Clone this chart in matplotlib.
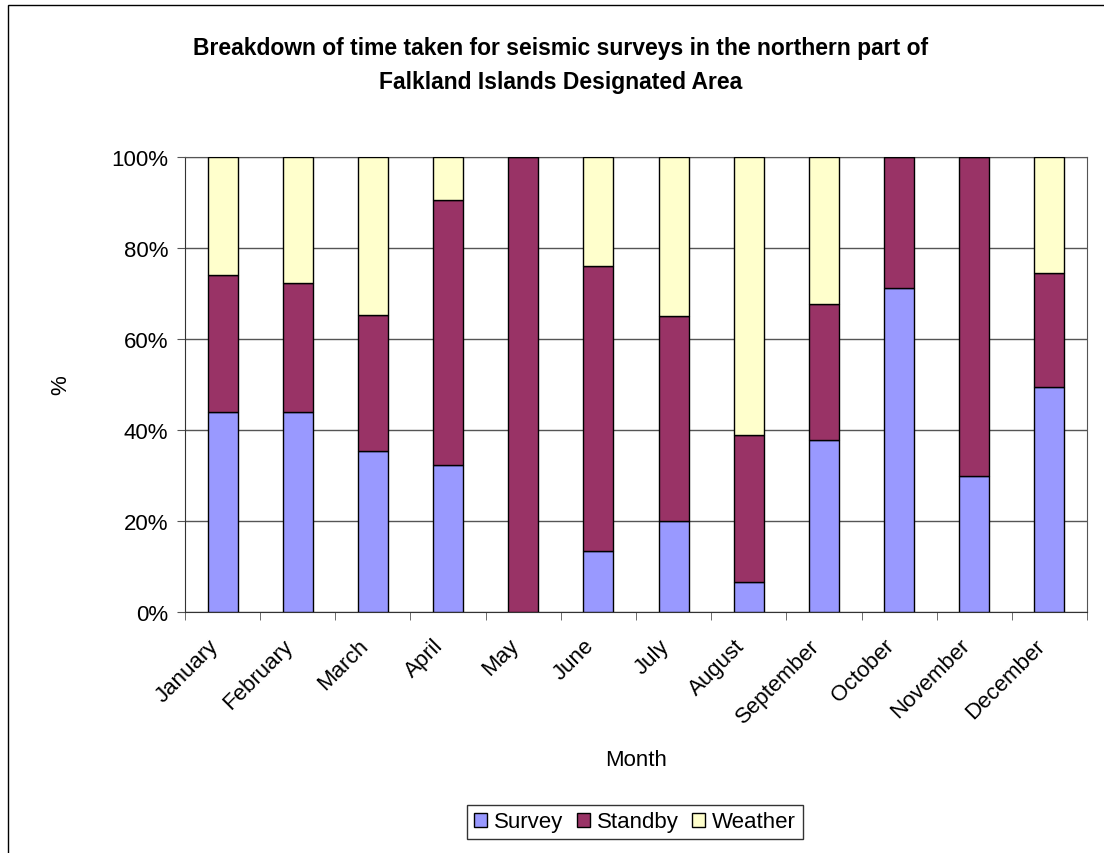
import matplotlib
matplotlib.use('Agg')
import matplotlib.pyplot as plt
import matplotlib.transforms as mtransforms
import numpy as np
from matplotlib.patches import Rectangle

plt.rcParams['font.family'] = ['Liberation Sans', 'DejaVu Sans']

months = ['January', 'February', 'March', 'April', 'May', 'June', 'July',
          'August', 'September', 'October', 'November', 'December']
survey = [44.0, 44.0, 35.4, 32.2, 0.0, 13.3, 20.1, 6.7, 37.7, 71.2, 29.9, 49.5]
standby = [30.0, 28.4, 29.9, 58.3, 100.0, 62.7, 44.9, 32.3, 30.1, 28.8, 70.1, 24.9]
weather = [26.0, 27.6, 34.7, 9.5, 0.0, 24.0, 35.0, 61.0, 32.2, 0.0, 0.0, 25.6]

fig = plt.figure(figsize=(11.04, 8.54), dpi=100)
# outer chart border
fig.patches.append(Rectangle((8 / 1104, -0.1), 1.2, 0.1 + (854 - 6) / 854,
                             transform=fig.transFigure, fill=False,
                             edgecolor='black', linewidth=1.0))

ax = fig.add_axes([185 / 1104, 1 - 613 / 854, (1087 - 185) / 1104, (613 - 158) / 854])

x = np.arange(len(months))
w = 0.4
s = np.array(survey)
sb = np.array(standby)
wt = np.array(weather)
ax.bar(x, s, w, color='#9999FF', edgecolor='black', linewidth=1.0, label='Survey', zorder=3)
ax.bar(x, sb, w, bottom=s, color='#993366', edgecolor='black', linewidth=1.0, label='Standby', zorder=3)
ax.bar(x, wt, w, bottom=s + sb, color='#FFFFCC', edgecolor='black', linewidth=1.0, label='Weather', zorder=3)

ax.set_xlim(-0.5, len(months) - 0.5)
ax.set_ylim(0, 100)
ax.set_yticks(np.arange(0, 101, 20))
ax.set_yticklabels([f'{v}%' for v in range(0, 101, 20)], fontsize=16)
ax.yaxis.grid(True, color='#555555', linewidth=1.0, zorder=0)

ax.set_xticks(x)
ax.set_xticklabels(months, rotation=45, ha='right', rotation_mode='anchor', fontsize=16)
ax.set_xticks(np.arange(-0.5, len(months), 1), minor=True)
ax.tick_params(axis='x', which='major', length=0, pad=12)
ax.tick_params(axis='x', which='minor', length=6, color='#555555', direction='out')
ax.tick_params(axis='y', length=6, color='#555555', direction='out', pad=6)

# nudge month labels left/down like the original
shift = mtransforms.ScaledTranslation(-15 / 100, -6 / 100, fig.dpi_scale_trans)
for lbl in ax.get_xticklabels():
    lbl.set_transform(lbl.get_transform() + shift)

for sp in ax.spines.values():
    sp.set_color('#555555')
ax.spines['left'].set_color('#333333')
ax.spines['bottom'].set_color('#333333')

ax.set_xlabel('Month', fontsize=16, labelpad=16)
ax.set_ylabel('%', fontsize=16, labelpad=29)

fig.text(561 / 1104, 1 - 49 / 854, 'Breakdown of time taken for seismic surveys in the northern part of',
         ha='center', va='center', fontsize=16.5, fontweight='bold')
fig.text(561 / 1104, 1 - 82 / 854, 'Falkland Islands Designated Area',
         ha='center', va='center', fontsize=16.5, fontweight='bold')

leg = fig.legend(loc='center', bbox_to_anchor=(635 / 1104, 1 - 823 / 854), ncol=3,
                 fontsize=16, frameon=True, fancybox=False, edgecolor='black',
                 handlelength=0.6, handleheight=0.6, handletextpad=0.3,
                 columnspacing=0.6, borderpad=0.3)
leg.get_frame().set_linewidth(1.0)

fig.savefig('out.png', dpi=100)
